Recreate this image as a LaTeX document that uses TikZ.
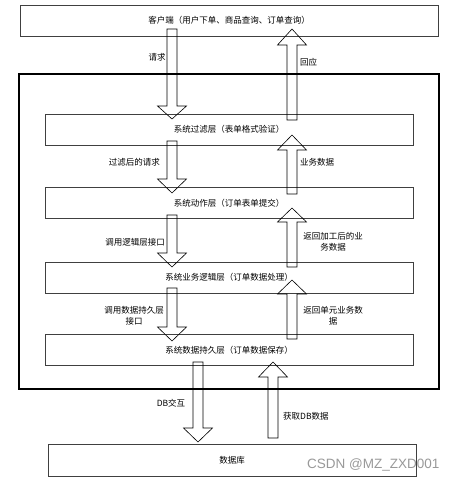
\documentclass[tikz,border=0pt]{standalone}
\usepackage{fontspec}
\setmainfont{Noto Sans CJK SC}
\newfontfamily\wmfont{Liberation Sans}
\tikzset{
  layerbox/.style={draw=black!75, line width=0.6pt, minimum width=368pt, minimum height=31pt, inner sep=0pt, font=\fontsize{8.5}{10}\selectfont},
  lbl/.style={inner sep=0pt, font=\fontsize{8.5}{10.5}\selectfont, align=center},
  blkarrow/.style={draw=black, line width=0.6pt}
}
\newcommand\blkarr[4]{%
  \draw[blkarrow] (#1-5,#2) -- (#1-5,#3) -- (#1-14.5,#3) -- (#1,#4) -- (#1+14.5,#3) -- (#1+5,#3) -- (#1+5,#2) -- cycle;}
\begin{document}
\begin{tikzpicture}[x=1pt,y=-1pt]
\useasboundingbox[fill=white] (0,0) rectangle (457,481);
% boxes
\node[layerbox, minimum width=418pt] (client) at (229,20.5) {客户端（用户下单、商品查询、订单查询）};
\draw[line width=2pt] (19,74) rectangle (439,389);
\coordinate (outer) at (229,231);
\node[layerbox] (l1) at (229,129.5) {系统过滤层（表单格式验证）};
\node[layerbox] (l2) at (229,203) {系统动作层（订单表单提交）};
\node[layerbox] (l3) at (229,277.5) {系统业务逻辑层（订单数据处理）};
\node[layerbox] (l4) at (229,350) {系统数据持久层（订单数据保存）};
\node[layerbox, minimum height=32pt] (db) at (232,460) {数据库};
% arrows
\blkarr{172}{29}{106}{119}
\blkarr{292}{120}{45}{29}
\blkarr{172}{141}{179}{193}
\blkarr{292}{194}{150}{135}
\blkarr{172}{215}{253}{267}
\blkarr{292}{267}{222}{208}
\blkarr{172}{288}{327}{341}
\blkarr{292}{339}{294}{280}
\blkarr{198}{362}{428}{442}
\blkarr{273}{438}{377}{362}
% labels
\node[lbl] (t1) at (157,57) {请求};
\node[lbl, anchor=west] (t2) at (300,62) {回应};
\node[lbl, anchor=east] (t3) at (160,162) {过滤后的请求};
\node[lbl, anchor=west] (t4) at (300,162) {业务数据};
\node[lbl] (t5) at (135,242) {调用逻辑层接口};
\node[lbl] (t6) at (333,242) {返回加工后的业\\务数据};
\node[lbl] (t7) at (134,316) {调用数据持久层\\接口};
\node[lbl] (t8) at (333,316) {返回单元业务数\\据};
\node[lbl] (t9) at (171,403) {DB交互};
\node[lbl, anchor=west] (t10) at (283,416) {获取DB数据};
\node[inner sep=0pt, anchor=west, text=black!40, font=\wmfont\fontsize{13.5}{15}\selectfont] (wm) at (307,465) {CSDN @MZ\_ZXD001};
\end{tikzpicture}
\end{document}
